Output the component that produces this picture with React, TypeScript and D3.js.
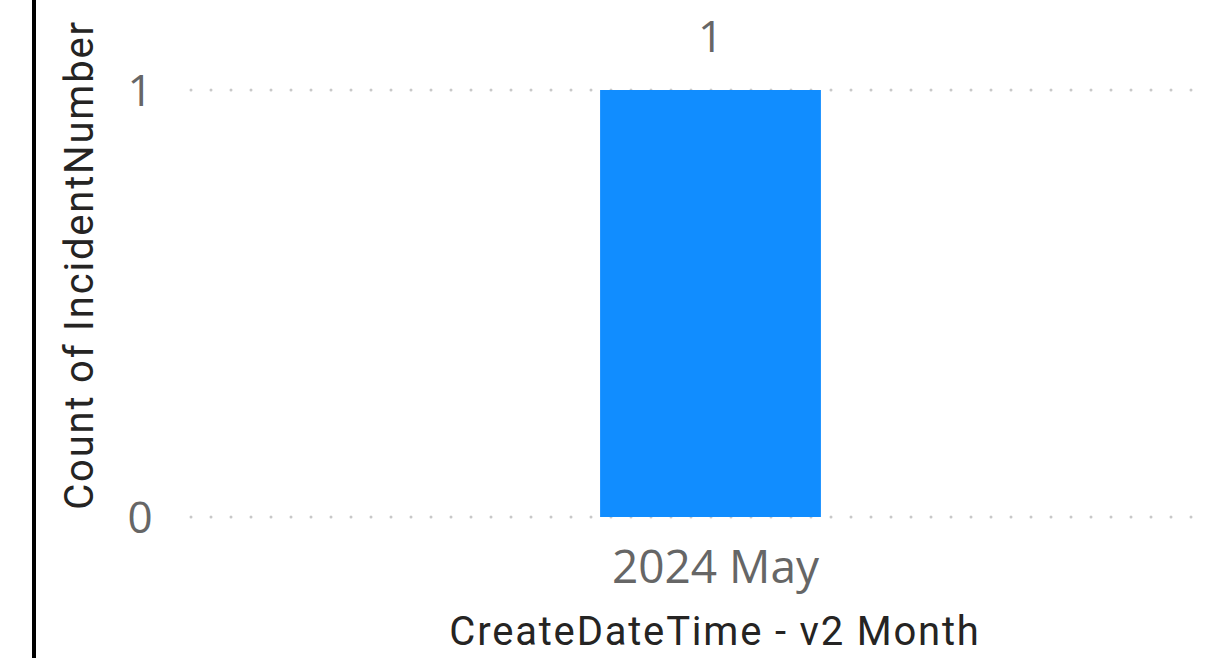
import * as d3 from "d3";

const categories = ["2024 May"];
const counts = [1];
const yTicks = [0, 1];
const xTitle = "CreateDateTime - v2 Month";
const yTitle = "Count of IncidentNumber";

export default function App() {
  const width = 1219;
  const height = 658;
  const x = d3.scaleBand<string>().domain(categories).range([190, 1231]).padding(0.65);
  const y = d3.scaleLinear().domain([0, 1]).range([517, 90]);
  const tickFont = "'Open Sans', 'Noto Sans', sans-serif";
  const titleFont = "Roboto, 'DejaVu Sans Condensed', sans-serif";

  return (
    <svg width={width} height={height} style={{ position: "absolute", left: 0, top: 0 }}>
      <rect x={0} y={0} width={width} height={height} fill="#fff" />
      <line x1={34} x2={34} y1={0} y2={height} stroke="#000" strokeWidth={4} />
      {yTicks.map((t) => (
        <g key={t}>
          <line
            x1={191}
            x2={1200}
            y1={y(t)}
            y2={y(t)}
            stroke="#c8c8c8"
            strokeWidth={3}
            strokeLinecap="round"
            strokeDasharray="0 20"
          />
          <text
            x={140}
            y={y(t)}
            dy="0.36em"
            textAnchor="middle"
            fontFamily={tickFont}
            fontSize={44}
            fill="#666"
          >
            {t}
          </text>
        </g>
      ))}
      {categories.map((c, i) => (
        <g key={c}>
          <rect x={x(c)} y={y(counts[i])} width={x.bandwidth()} height={y(0) - y(counts[i])} fill="#118DFF" />
          <text
            x={(x(c) ?? 0) + x.bandwidth() / 2}
            y={y(counts[i]) - 38}
            textAnchor="middle"
            fontFamily={tickFont}
            fontSize={44}
            fill="#666"
          >
            {counts[i]}
          </text>
          <text
            x={(x(c) ?? 0) + x.bandwidth() / 2 + 5}
            y={583}
            textAnchor="middle"
            fontFamily={tickFont}
            fontSize={46}
            fill="#666"
          >
            {c}
          </text>
        </g>
      ))}
      <text
        x={715}
        y={645}
        textAnchor="middle"
        fontFamily={titleFont}
        fontSize={40}
        letterSpacing={1.8}
        fill="#252423"
      >
        {xTitle}
      </text>
      <text
        transform={`translate(93,265) rotate(-90)`}
        textAnchor="middle"
        fontFamily={titleFont}
        fontSize={40}
        letterSpacing={1.8}
        fill="#252423"
      >
        {yTitle}
      </text>
    </svg>
  );
}
